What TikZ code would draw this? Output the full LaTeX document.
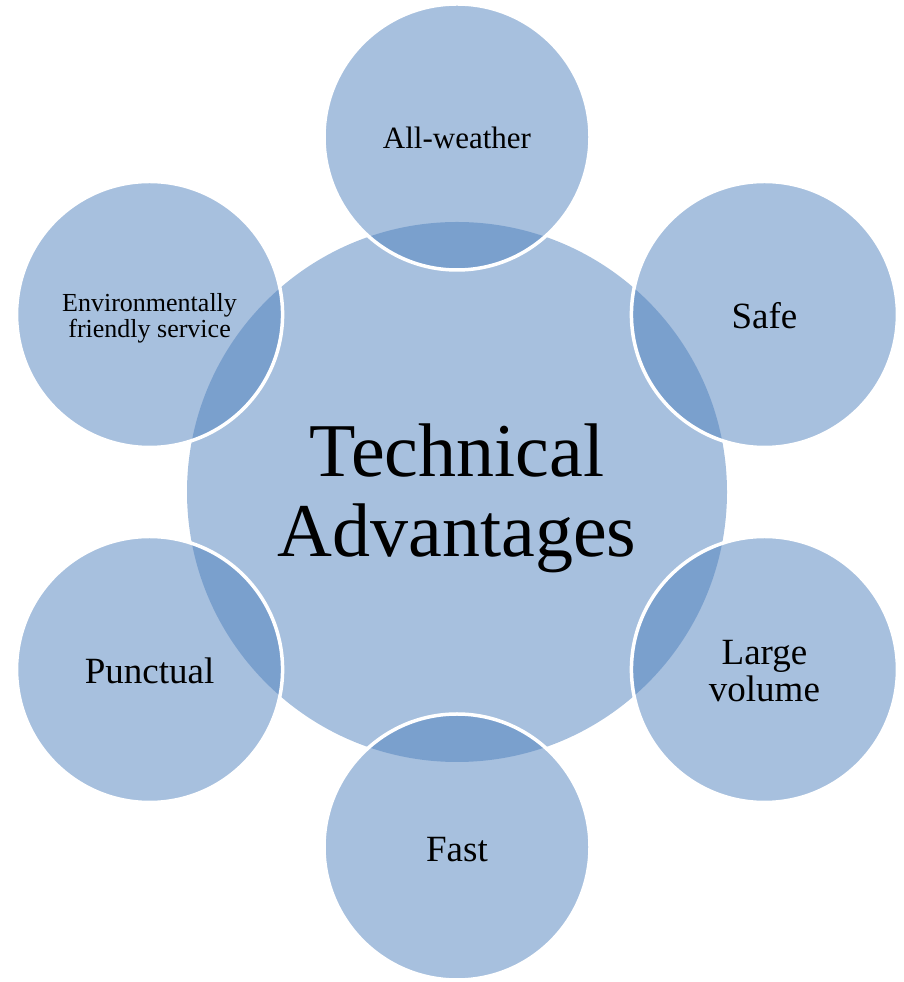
\documentclass[tikz,border=0pt]{standalone}
\usepackage{fontspec}
\setmainfont{Liberation Serif}
\definecolor{accent}{RGB}{79,129,189}
\tikzset{
	bigdisc/.style={circle,fill=accent,fill opacity=0.5,text opacity=1,inner sep=0pt,outer sep=0pt,minimum size=540pt,align=center},
	petal/.style={circle,fill=accent,fill opacity=0.5,draw=white,draw opacity=1,line width=3.5pt,text opacity=1,inner sep=0pt,outer sep=0pt,minimum size=266pt,align=center},
}
\begin{document}
\begin{tikzpicture}[
		x=1pt,
		y=1pt,
	]
		\useasboundingbox (0,0) rectangle (903,982);
		\node[bigdisc,font=\fontsize{76}{80}\selectfont,text height=146pt] (core) at (457,490) {Technical\\Advantages};
		
		\foreach \a/\nm/\fs/\th/\txt in {90/allweather/31/24/{All-weather}, 30/safe/37/29/{Safe}, -30/volume/37/65/{Large\\volume}, -90/fast/37/29/{Fast}, -150/punctual/37/29/{Punctual}, 150/green/26/52/{Environmentally\\friendly service}}{
			\node[petal,font=\fontsize{\fs}{\fs}\selectfont,text height=\th pt] (\nm) at ([shift={(\a:355)}]core.center) {\txt};
		}
	\end{tikzpicture}
\end{document}
